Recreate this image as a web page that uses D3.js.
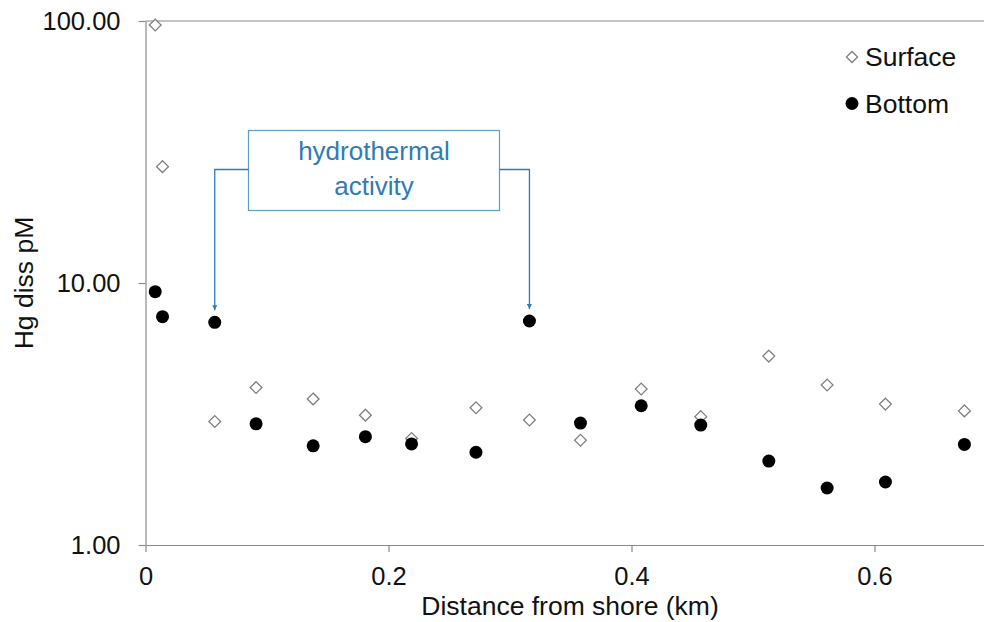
<!DOCTYPE html>
<html lang="en">
<head>
    <meta charset="UTF-8">
    <title>Hg diss vs distance from shore</title>
    <script src="https://cdnjs.cloudflare.com/ajax/libs/d3/7.9.0/d3.min.js"></script>
    <style>
        body {
            margin: 0;
            background: #fff;
            font-family: Arial, "Liberation Sans", sans-serif;
        }
        .axis text {
            font-family: Arial, "Liberation Sans", sans-serif;
            font-size: 25.5px;
            fill: #111;
        }
        .axis path, .axis line {
            stroke: #8a8a8a;
            stroke-width: 1.2;
        }
        .axis-title {
            font-size: 26.5px;
            fill: #111;
        }
        .legend-label {
            font-size: 26.5px;
            fill: #111;
        }
        .note-text {
            font-size: 26px;
            fill: #2f7bb5;
            text-anchor: middle;
        }
    </style>
</head>
<body>
<div id="chart"></div>
<script>
    // distance from shore (km), shared by both series
    const distance = [0.008, 0.014, 0.057, 0.091, 0.138, 0.181, 0.219, 0.272, 0.316, 0.358, 0.408, 0.457, 0.513, 0.561, 0.609, 0.674];
    const surface  = [96.5, 27.8, 2.96, 3.99, 3.61, 3.13, 2.55, 3.34, 3.00, 2.51, 3.94, 3.09, 5.26, 4.08, 3.45, 3.25];
    const bottom   = [9.27, 7.44, 7.08, 2.90, 2.39, 2.59, 2.43, 2.26, 7.16, 2.92, 3.40, 2.87, 2.09, 1.65, 1.74, 2.42];
    const yTicks = [1, 10, 100];
    const xTicks = [0, 0.2, 0.4, 0.6];
    const hydroIdx = [2, 8]; // bottom samples flagged as hydrothermal activity

    const width = 984, height = 622;
    const margin = { top: 21, left: 145.5, bottom: 77 };

    const svg = d3.select("#chart").append("svg")
        .attr("width", width)
        .attr("height", height);

    const x = d3.scaleLinear().domain([0, 0.7]).range([margin.left, 996]);
    const y = d3.scaleLog().domain([1, 100]).range([height - margin.bottom, margin.top]);

    // top frame line
    svg.append("line")
        .attr("x1", margin.left).attr("x2", width)
        .attr("y1", y(100)).attr("y2", y(100))
        .attr("stroke", "#8a8a8a").attr("stroke-width", 1.2);

    // x axis
    svg.append("g")
        .attr("class", "axis")
        .attr("transform", `translate(0,${y(1)})`)
        .call(d3.axisBottom(x).tickValues(xTicks)
            .tickFormat(d => d === 0 ? "0" : d3.format(".1f")(d))
            .tickSize(7).tickSizeOuter(0).tickPadding(15));

    // y axis
    svg.append("g")
        .attr("class", "axis")
        .attr("transform", `translate(${margin.left},0)`)
        .call(d3.axisLeft(y).tickValues(yTicks)
            .tickFormat(d3.format(".2f"))
            .tickSize(7).tickSizeOuter(0).tickPadding(18));

    // axis titles
    svg.append("text")
        .attr("class", "axis-title")
        .attr("x", 570).attr("y", 615)
        .attr("text-anchor", "middle")
        .text("Distance from shore (km)");

    svg.append("text")
        .attr("class", "axis-title")
        .attr("transform", `translate(33,${(y(1) + y(100)) / 2}) rotate(-90)`)
        .attr("text-anchor", "middle")
        .text("Hg diss pM");

    // surface: open diamonds
    const diamond = d3.symbol().type(d3.symbolDiamond2).size(88);
    svg.append("g").selectAll("path")
        .data(surface)
        .join("path")
        .attr("d", diamond)
        .attr("transform", (d, i) => `translate(${x(distance[i])},${y(d)})`)
        .attr("fill", "#fff")
        .attr("stroke", "#7f7f7f")
        .attr("stroke-width", 1.3);

    // bottom: filled circles
    svg.append("g").selectAll("circle")
        .data(bottom)
        .join("circle")
        .attr("cx", (d, i) => x(distance[i]))
        .attr("cy", d => y(d))
        .attr("r", 6.5)
        .attr("fill", "#000");

    // hydrothermal annotation box
    const box = { x: 248.5, y: 130.5, w: 251, h: 80 };
    const noteColor = "#2f7bb5";
    svg.append("rect")
        .attr("x", box.x).attr("y", box.y)
        .attr("width", box.w).attr("height", box.h)
        .attr("fill", "#fff")
        .attr("stroke", "#5c9ec9")
        .attr("stroke-width", 1.2);
    svg.append("text").attr("class", "note-text")
        .attr("x", box.x + box.w / 2).attr("y", 160).text("hydrothermal");
    svg.append("text").attr("class", "note-text")
        .attr("x", box.x + box.w / 2).attr("y", 195).text("activity");

    svg.append("defs").append("marker")
        .attr("id", "arrow")
        .attr("viewBox", "0 0 10 10")
        .attr("refX", 10).attr("refY", 5)
        .attr("markerWidth", 5).attr("markerHeight", 5)
        .attr("markerUnits", "userSpaceOnUse")
        .attr("orient", "auto")
        .append("path")
        .attr("d", "M0,0L10,5L0,10Z")
        .attr("fill", noteColor);

    const elbowY = 169.5;
    hydroIdx.forEach((idx, k) => {
        const px = x(distance[idx]);
        const py = y(bottom[idx]) - 12;
        const sx = k === 0 ? box.x : box.x + box.w;
        svg.append("path")
            .attr("d", `M${sx},${elbowY}H${px}V${py}`)
            .attr("fill", "none")
            .attr("stroke", noteColor)
            .attr("stroke-width", 1.3)
            .attr("marker-end", "url(#arrow)");
    });

    // legend
    const legend = svg.append("g");
    legend.append("path")
        .attr("d", d3.symbol().type(d3.symbolDiamond2).size(78))
        .attr("transform", "translate(852,57)")
        .attr("fill", "#fff").attr("stroke", "#7f7f7f").attr("stroke-width", 1.3);
    legend.append("text").attr("class", "legend-label")
        .attr("x", 865).attr("y", 65.5).text("Surface");
    legend.append("circle")
        .attr("cx", 852).attr("cy", 103.5).attr("r", 6.5).attr("fill", "#000");
    legend.append("text").attr("class", "legend-label")
        .attr("x", 865).attr("y", 112.5).text("Bottom");
</script>
</body>
</html>
